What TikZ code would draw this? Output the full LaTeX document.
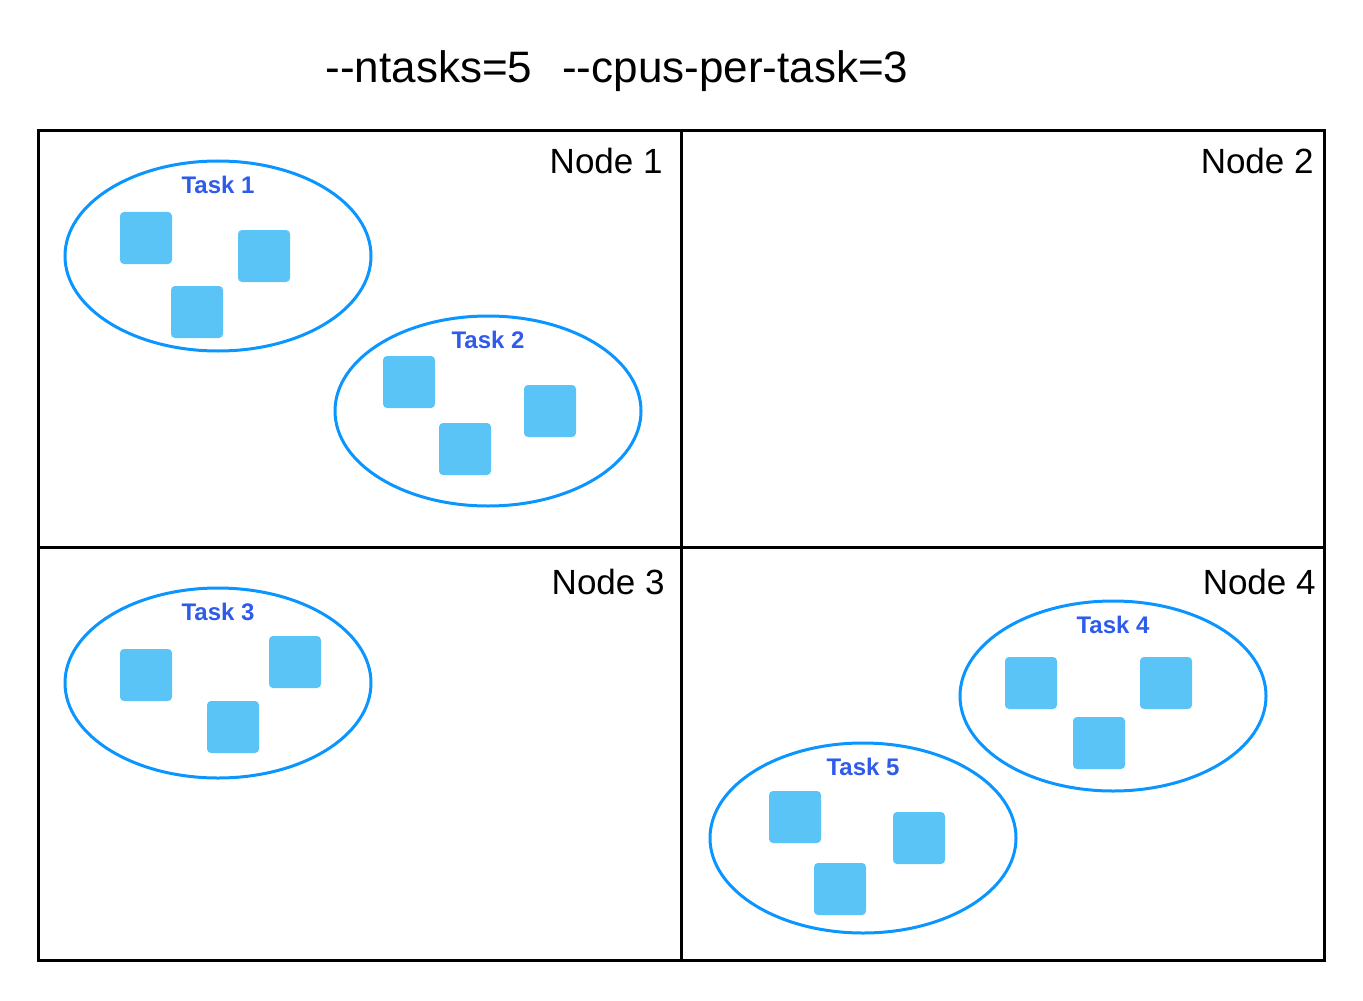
\documentclass[tikz,border=0pt]{standalone}
\usepackage{fontspec}
\usepackage{xcolor}
\usetikzlibrary{positioning,shapes.geometric}
\newfontfamily\sfpro{Liberation Sans}
\definecolor{taskring}{RGB}{10,149,255}
\definecolor{tasktext}{RGB}{47,91,234}
\definecolor{cpufill}{RGB}{90,196,246}
\tikzset{
  cell/.style={
    draw=black,
    line width=1.5pt,
    minimum width=321.5pt,
    minimum height={#1},
    inner sep=0pt,
  },
  cell label/.style={
    anchor=base east,
    inner sep=0pt,
    font=\sfpro\fontsize{17.5}{20}\selectfont,
  },
  task/.style={
    ellipse,
    draw=taskring,
    line width=1.5pt,
    minimum width=153pt,
    minimum height=95pt,
  },
  task label/.style={
    anchor=north,
    inner sep=0pt,
    text=tasktext,
    font=\sfpro\bfseries\fontsize{12}{14}\selectfont,
  },
  cpu/.style={
    fill=cpufill,
    rounded corners=2pt,
    minimum size=26pt,
    inner sep=0pt,
  }
}

\begin{document}
\begin{tikzpicture}[x=0.5pt, y=-0.5pt, node distance=-1.5pt]
        \useasboundingbox (0,0) rectangle (1363,1000);

        \node [font=\sfpro\fontsize{22}{26}\selectfont] (title) at (617,71)
          {--ntasks=5\hspace{15pt}--cpus-per-task=3};

        \node [cell=208pt] (node1) at (359.5,339) {};
        \node [cell=208pt, right=of node1] (node2) {};
        \node [cell=206.5pt, below=of node1] (node3) {};
        \node [cell=206.5pt, right=of node3] (node4) {};

        \node [cell label] (lbl1) at (663,174) {Node 1};
        \node [cell label] (lbl2) at (1314,174) {Node 2};
        \node [cell label] (lbl3) at (665,594) {Node 3};
        \node [cell label] (lbl4) at (1316,594) {Node 4};

        \node [task] (task1) at (218,256) {};
        \node [task] (task2) at (488,411) {};
        \node [task] (task3) at (218,683) {};
        \node [task] (task4) at (1113,696) {};
        \node [task] (task5) at (863,838) {};

        \foreach \t in {1,...,5}
          \node [task label] (tl\t) at ([yshift=-8pt]task\t.north) {Task \t};

        \foreach \x/\y [count=\i] in {146/238, 264/256, 197/312,
                                      409/382, 550/411, 465/449,
                                      146/675, 295/662, 233/727,
                                      1031/683, 1166/683, 1099/743,
                                      795/817, 919/838, 840/889}
          \node [cpu] (cpu\i) at (\x,\y) {};
    \end{tikzpicture}
\end{document}
